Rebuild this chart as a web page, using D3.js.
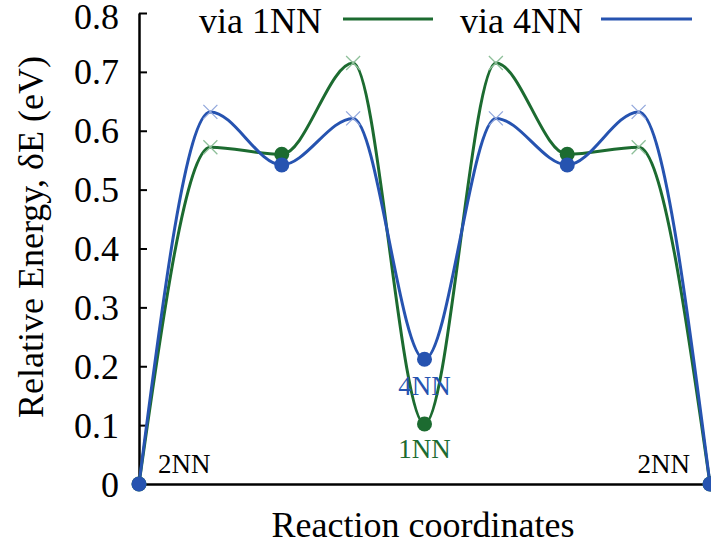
<!DOCTYPE html>
<html><head><meta charset="utf-8">
<script src="https://cdn.jsdelivr.net/npm/d3@7"></script>
<style>body{margin:0;background:#fff}svg{display:block}svg text{font-family:"Liberation Serif","Times New Roman","DejaVu Serif",serif}</style>
</head><body>
<svg id="c" width="711" height="548"></svg>
<script>
const steps = [0,1,2,3,4,5,6,7,8];
const kinds = ["min","ts","min","ts","min","ts","min","ts","min"];
const via1NN = [0,0.572,0.56,0.715,0.102,0.715,0.56,0.572,0];
const via4NN = [0,0.632,0.542,0.621,0.212,0.621,0.542,0.632,0];
const yTicks = [0,0.1,0.2,0.3,0.4,0.5,0.6,0.7,0.8];
const yTickLabels = ["0","0.1","0.2","0.3","0.4","0.5","0.6","0.7","0.8"];
const series = [
  {name:"via 1NN", values:via1NN, color:"#1c6b30", pale:"#8fc09a"},
  {name:"via 4NN", values:via4NN, color:"#2653b0", pale:"#93a8dc"}
];
const svg = d3.select("#c");
const x = d3.scaleLinear().domain([0,8]).range([139,710]);
const y = d3.scaleLinear().domain([0,0.8]).range([484,13]);

// axes
const ya = svg.append("g").attr("transform","translate(139,0)")
  .call(d3.axisRight(y).tickValues(yTicks).tickFormat((d,i)=>yTickLabels[i]).tickSize(8).tickSizeOuter(0));
ya.select(".domain").attr("stroke","#000").attr("stroke-width",2.5);
ya.selectAll(".tick line").attr("stroke","#000").attr("stroke-width",2);
ya.selectAll(".tick text").remove();
ya.selectAll(".tick").filter(d=>d===0).select("line").remove();
svg.append("g").selectAll("text").data(yTicks).join("text")
  .attr("x",119).attr("y",d=>y(d)+(d===0.8?3:0)).attr("dy","0.35em").attr("text-anchor","end")
  .attr("font-size",36).attr("fill","#000")
  .text((d,i)=>yTickLabels[i]);
const xa = svg.append("g").attr("transform","translate(0,484)")
  .call(d3.axisBottom(x).tickValues([]).tickSizeOuter(0));
xa.select(".domain").attr("stroke","#000").attr("stroke-width",2.5);

// axis titles
svg.append("text").attr("x",423).attr("y",537).attr("text-anchor","middle")
  .attr("font-size",36).text("Reaction coordinates");
svg.append("text").attr("transform","translate(43,237) rotate(-90)").attr("text-anchor","middle")
  .attr("font-size",36).text("Relative Energy, δE (eV)");

// curves
const line = d3.line().x((d,i)=>x(steps[i])).y(d=>y(d)).curve(d3.curveMonotoneX);
series.forEach(s=>{
  svg.append("path").attr("d",line(s.values)).attr("fill","none")
    .attr("stroke",s.color).attr("stroke-width",3);
});
// markers
series.forEach(s=>{
  const g = svg.append("g");
  s.values.forEach((v,i)=>{
    if(kinds[i]==="ts"){
      const cx=x(steps[i]), cy=y(v), r=7;
      g.append("path").attr("d",`M${cx-r},${cy-r}L${cx+r},${cy+r}M${cx-r},${cy+r}L${cx+r},${cy-r}`)
        .attr("stroke",s.pale).attr("stroke-width",1.3);
    } else {
      g.append("circle").attr("cx",x(steps[i])).attr("cy",y(v)).attr("r",7.5).attr("fill",s.color);
    }
  });
});

// legend
const leg = [{label:"via 1NN",tx:322,x1:343,x2:433,color:series[0].color},
             {label:"via 4NN",tx:583,x1:601,x2:692,color:series[1].color}];
leg.forEach(l=>{
  svg.append("text").attr("x",l.tx).attr("y",33).attr("text-anchor","end")
    .attr("font-size",36).text(l.label);
  svg.append("line").attr("x1",l.x1).attr("x2",l.x2).attr("y1",19).attr("y2",19)
    .attr("stroke",l.color).attr("stroke-width",3);
});

// annotations
svg.append("text").attr("x",158).attr("y",473).attr("font-size",27).text("2NN");
svg.append("text").attr("x",690).attr("y",473).attr("text-anchor","end").attr("font-size",27).text("2NN");
svg.append("text").attr("x",x(4)).attr("y",395).attr("text-anchor","middle").attr("font-size",27).attr("fill",series[1].color).text("4NN");
svg.append("text").attr("x",x(4)).attr("y",458).attr("text-anchor","middle").attr("font-size",27).attr("fill",series[0].color).text("1NN");
</script>
</body></html>
